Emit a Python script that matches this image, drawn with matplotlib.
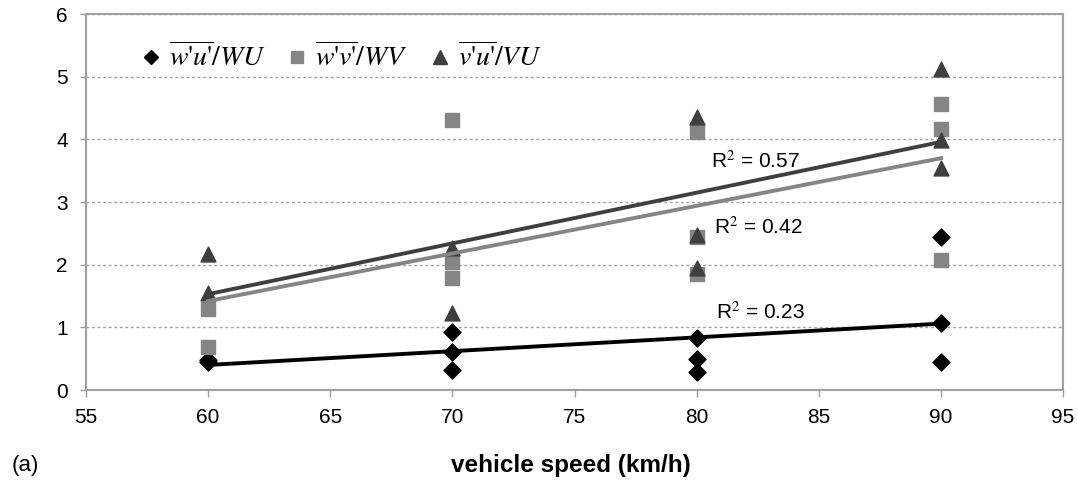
import matplotlib.pyplot as plt
from matplotlib.lines import Line2D

plt.rcParams['font.family'] = ['Liberation Sans', 'DejaVu Sans']
plt.rcParams['mathtext.fontset'] = 'stix'

speed_wu = [60, 60, 70, 70, 70, 80, 80, 80, 90, 90, 90]
ratio_wu = [0.48, 0.45, 0.93, 0.61, 0.32, 0.83, 0.50, 0.29, 2.44, 1.07, 0.45]

speed_wv = [60, 60, 70, 70, 70, 80, 80, 80, 90, 90, 90]
ratio_wv = [1.30, 0.68, 4.31, 2.04, 1.79, 4.12, 2.44, 1.85, 4.56, 4.16, 2.07]

speed_vu = [60, 60, 70, 70, 80, 80, 80, 90, 90, 90]
ratio_vu = [2.17, 1.55, 2.26, 1.23, 4.36, 2.47, 1.95, 5.13, 3.99, 3.54]

# linear trend lines (end points at 60 and 90 km/h)
trend_x = [60, 90]
trend_wu = [0.40, 1.06]
trend_wv = [1.42, 3.70]
trend_vu = [1.53, 3.96]

r2_labels = ["R$^2$ = 0.57", "R$^2$ = 0.42", "R$^2$ = 0.23"]
r2_pos = [(80.6, 3.66), (80.7, 2.60), (80.8, 1.25)]

legend_labels = [r"$\overline{w\text{'}u\text{'}}/WU$",
                 r"$\overline{w\text{'}v\text{'}}/WV$",
                 r"$\overline{v\text{'}u\text{'}}/VU$"]

c_wu = 'black'
c_wv = '#858585'
c_vu = '#3f3f3f'

fig = plt.figure(figsize=(10.78, 4.86), dpi=100)
ax = fig.add_axes([0.0798, 0.1975, 0.9064, 0.7735])

ax.scatter(speed_wu, ratio_wu, marker='D', s=75, color=c_wu, zorder=3)
ax.scatter(speed_wv, ratio_wv, marker='s', s=90, color=c_wv, zorder=3)
ax.scatter(speed_vu, ratio_vu, marker='^', s=115, color=c_vu, zorder=3)

ax.plot(trend_x, trend_wu, color=c_wu, lw=2.8, zorder=4)
ax.plot(trend_x, trend_wv, color=c_wv, lw=2.8, zorder=4)
ax.plot(trend_x, trend_vu, color=c_vu, lw=2.8, zorder=4)

for txt, (x, y) in zip(r2_labels, r2_pos):
    ax.text(x, y, txt, fontsize=15, va='center', ha='left', zorder=5)

ax.set_xlim(55, 95)
ax.set_ylim(0, 6)
ax.set_xticks(range(55, 96, 5))
ax.set_yticks(range(0, 7))
ax.tick_params(axis='both', labelsize=15, colors='#a0a0a0', labelcolor='black', length=5, width=1)
ax.tick_params(axis='x', pad=8)
ax.tick_params(axis='y', pad=9, length=4)

ax.yaxis.grid(True, linestyle=(0, (2, 2)), color='#a0a0a0', lw=1)
ax.set_axisbelow(True)
for s in ax.spines.values():
    s.set_color('#a0a0a0')
    s.set_linewidth(1.5)

handles = [
    Line2D([], [], marker='D', color=c_wu, ls='none', markersize=7),
    Line2D([], [], marker='s', color=c_wv, ls='none', markersize=8),
    Line2D([], [], marker='^', color=c_vu, ls='none', markersize=10),
]
ax.legend(handles, legend_labels, ncol=3, frameon=False, loc='center left',
          bbox_to_anchor=(0.025, 0.885), fontsize=20, handletextpad=0.1,
          columnspacing=0.6, handlelength=1.1)

fig.text(0.53, 0.043, "vehicle speed (km/h)", fontsize=17.5, fontweight='bold',
         ha='center', va='center')
fig.text(0.011, 0.043, "(a)", fontsize=16, ha='left', va='center')

fig.savefig("out.png", dpi=100)
